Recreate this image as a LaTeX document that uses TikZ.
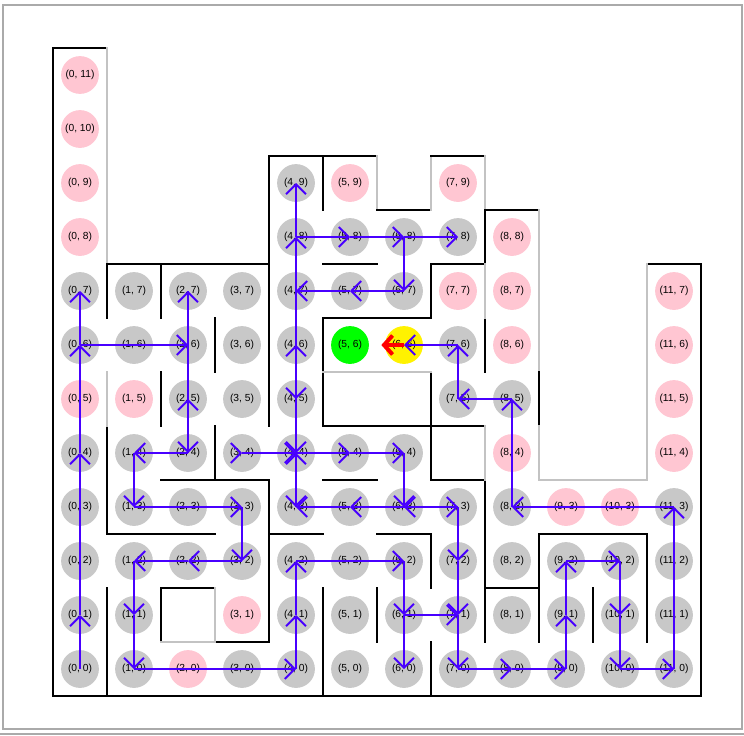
\documentclass[tikz,border=0pt]{standalone}
\usepackage{fontspec}
\setmainfont{Liberation Sans}
\usepackage{tikz}
\usepackage{xcolor}
\usetikzlibrary{arrows.meta}

\definecolor{cellgray}{RGB}{200,200,200}
\definecolor{cellpink}{RGB}{255,198,210}
\definecolor{wallgray}{RGB}{195,195,195}
\definecolor{trailblue}{RGB}{72,0,255}
\definecolor{framegray}{RGB}{170,170,170}

\begin{document}
\begin{tikzpicture}[
    cell/.style={circle, minimum size=0.7cm, inner sep=0pt, text=black, font=\fontsize{5.4}{6}\selectfont},
    seen/.style={cell, fill=cellgray},
    unseen/.style={cell, fill=cellpink},
    wall/.style={line width=1pt, black, line cap=rect},
    softwall/.style={line width=1pt, wallgray, line cap=rect},
    trail/.style={line width=1pt, trailblue, -{Straight Barb[length=5.2pt,width=10.5pt]}},
  ]
  \useasboundingbox (-1.4815,-1.2222) rectangle (12.2963,12.3889);
  \draw[framegray, line width=1pt] (-1.426,-1.111) rectangle (12.259,12.296);
  \draw[framegray, line width=1.2pt] (-1.4815,-1.2) -- (12.2963,-1.2);

  % walls, on the grid lines
  \begin{scope}[shift={(-0.5,-0.5)}]
    \draw[wall] (1,12) -- (0,12) -- (0,0) -- (12,0) -- (12,8) -- (11,8);
    \draw[softwall] (1,12) -- (1,8);
    \draw[wall] (1,8) -- (4,8);
    \draw[wall] (4,5) -- (4,10) -- (6,10);
    \draw[softwall] (6,10) -- (6,9);
    \draw[wall] (6,9) -- (7,9);
    \draw[softwall] (7,9) -- (7,10);
    \draw[wall] (7,10) -- (8,10);
    \draw[softwall] (8,10) -- (8,9);
    \draw[wall] (8,9) -- (9,9);
    \draw[softwall] (9,9) -- (9,6);
    \draw[wall] (9,6) -- (9,5);
    \draw[softwall] (9,5) -- (9,4) -- (11,4) -- (11,8);
    \foreach \ax/\ay/\bx/\by in {1/8/1/7, 2/8/2/7, 3/7/3/6, 2/6/2/5, 1/5/1/3, 1/3/3/3,
        3/5/3/4, 2/4/4/4, 4/4/4/1, 3/1/4/1, 4/3/5/3, 2/1/2/2, 2/2/3/2, 1/2/1/0,
        5/2/5/0, 6/2/6/1, 7/1/7/0, 6/3/7/3, 7/3/7/2, 5/4/6/4, 5/6/5/5, 5/5/8/5,
        7/6/7/4, 7/4/8/4, 8/4/8/1, 8/2/9/2, 9/3/9/1, 9/3/11/3, 11/3/11/1, 10/2/10/1,
        5/10/5/9, 5/8/6/8, 7/8/8/8, 8/9/8/8, 7/8/7/7, 5/7/7/7, 5/7/5/6, 8/7/8/6}
      \draw[wall] (\ax,\ay) -- (\bx,\by);
    \foreach \ax/\ay/\bx/\by in {3/2/3/1, 3/1/2/1, 1/6/1/5, 5/6/7/6, 8/5/8/4, 8/8/8/7}
      \draw[softwall] (\ax,\ay) -- (\bx,\by);
  \end{scope}

  % cells
  \foreach \i/\j in {0/0, 1/0, 3/0, 4/0, 5/0, 6/0, 7/0, 8/0, 9/0, 10/0, 11/0,
      0/1, 1/1, 4/1, 5/1, 6/1, 7/1, 8/1, 9/1, 10/1, 11/1,
      0/2, 1/2, 2/2, 3/2, 4/2, 5/2, 6/2, 7/2, 8/2, 9/2, 10/2, 11/2,
      0/3, 1/3, 2/3, 3/3, 4/3, 5/3, 6/3, 7/3, 8/3, 11/3,
      0/4, 1/4, 2/4, 3/4, 4/4, 5/4, 6/4,
      2/5, 3/5, 4/5, 7/5, 8/5,
      0/6, 1/6, 2/6, 3/6, 4/6, 7/6,
      0/7, 1/7, 2/7, 3/7, 4/7, 5/7, 6/7,
      4/8, 5/8, 6/8, 7/8, 4/9}
    \node[seen] (c\i-\j) at (\i,\j) {(\i, \j)};
  \foreach \i/\j in {2/0, 3/1, 9/3, 10/3, 8/4, 11/4, 0/5, 1/5, 11/5, 8/6, 11/6,
      7/7, 8/7, 11/7, 0/8, 8/8, 0/9, 5/9, 7/9, 0/10, 0/11}
    \node[unseen] (c\i-\j) at (\i,\j) {(\i, \j)};
  \node[cell, fill=green] (c5-6) at (5,6) {(5, 6)};
  \node[cell, fill=yellow] (c6-6) at (6,6) {(6, 6)};

  % trajectory
  \foreach \s/\t in {0-0/0-1, 0-1/0-4, 0-4/0-6, 0-6/0-7, 0-6/2-6, 2-6/2-7, 2-7/2-4, 2-4/2-5,
      2-4/1-4, 1-4/1-3, 1-3/3-3, 3-3/3-2, 3-2/2-2, 2-2/1-2, 1-2/1-1, 1-1/1-0,
      1-0/4-0, 4-0/4-1, 4-1/4-2, 4-2/6-2, 6-2/6-1, 6-1/6-0, 6-1/7-1,
      7-3/7-2, 7-2/7-1, 7-1/7-0, 7-0/8-0, 8-0/9-0, 9-0/9-1, 9-1/9-2, 9-2/10-2,
      10-2/10-1, 10-1/10-0, 10-0/11-0, 11-0/11-3, 11-3/8-3, 8-3/8-5, 8-5/7-5,
      7-5/7-6, 7-6/6-6,
      4-3/4-4, 4-4/4-6, 4-6/4-8, 4-8/4-9, 4-8/5-8, 5-8/6-8, 6-8/7-8,
      6-8/6-7, 6-7/5-7, 5-7/4-7, 4-7/4-5, 4-5/4-4, 4-4/4-3,
      4-4/5-4, 5-4/6-4, 6-4/6-3, 7-3/6-3, 6-3/5-3, 5-3/4-3, 6-3/7-3, 3-4/4-4}
    \draw[trail] (c\s.center) -- (c\t.center);
  % head on the first cell of the row 4 run
  \coordinate (runstart) at (2.96,4);
  \draw[trail] (runstart) -- (c3-4.center);

  \coordinate (facing) at (5.58,6);
  \draw[red, line width=2.1pt, -{Straight Barb[length=4.5pt,width=10pt]}] (c6-6.center) -- (facing);
\end{tikzpicture}
\end{document}
